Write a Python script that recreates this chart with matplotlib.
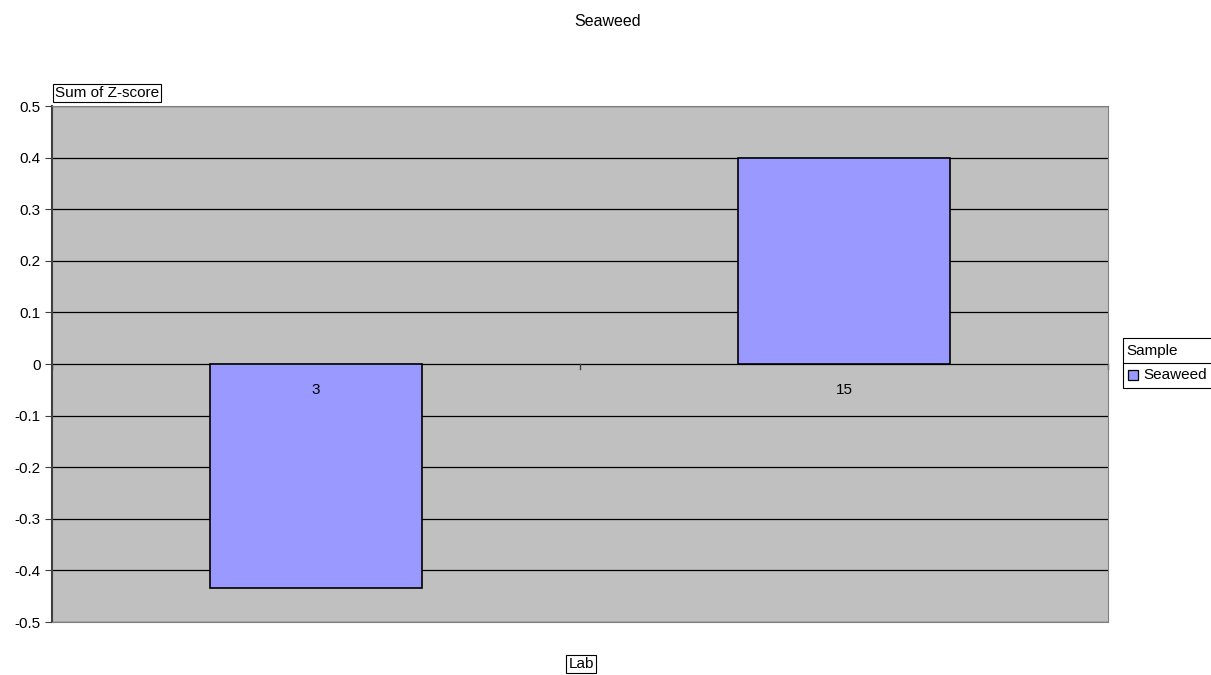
import matplotlib
matplotlib.use("Agg")
import matplotlib.pyplot as plt
import matplotlib.patches as mpatches

labs = ["3", "15"]
zscores = [-0.435, 0.4]
yticks = [-0.5, -0.4, -0.3, -0.2, -0.1, 0, 0.1, 0.2, 0.3, 0.4, 0.5]
series_name = "Seaweed"

plt.rcParams['font.family'] = ['Liberation Sans', 'DejaVu Sans']

W, H = 1211, 675
fig = plt.figure(figsize=(W/100, H/100), dpi=100)
ax = fig.add_axes([52/W, 1-622/H, (1108-52)/W, (622-106)/H])
ax.set_facecolor('#c0c0c0')

x = list(range(len(labs)))
ax.bar(x, zscores, width=0.4, color='#9999ff', edgecolor='black', linewidth=1.2, zorder=3)

ax.set_xlim(-0.5, len(labs) - 0.5)
ax.set_ylim(-0.5, 0.5)
ax.set_yticks(yticks)
ax.set_yticklabels(['%g' % v for v in yticks], fontsize=11)
for v in yticks:
    ax.axhline(v, color='black', linewidth=0.9, zorder=1)

# category labels sit under the zero line, inside the plot
ax.set_xticks([])
for i, lab in enumerate(labs):
    ax.text(i, -0.05, lab, ha='center', va='center', fontsize=11, zorder=4)
for b in [-0.5, 0.5, 1.5]:
    ax.plot([b, b], [0, -0.01], color='#404040', linewidth=1, zorder=2, clip_on=False)

for s in ['top', 'right', 'bottom']:
    ax.spines[s].set_color('gray')
ax.spines['left'].set_color('#404040')
ax.spines['left'].set_linewidth(1.5)
ax.tick_params(axis='y', length=5, color='#404040', pad=3)

fig.text(608/W, 1-21/H, series_name, ha='center', va='center', fontsize=11.5)

box = dict(boxstyle='square,pad=0.15', facecolor='white', edgecolor='black', linewidth=0.8)
fig.text(55/W, 1-93/H, "Sum of Z-score", ha='left', va='center', fontsize=11, bbox=box)
fig.text(581/W, 1-664/H, "Lab", ha='center', va='center', fontsize=11, bbox=box)

# legend: title box over entry box, running off the right edge
fig.patches.append(mpatches.Rectangle((1123/W, 1-388/H), 100/W, 50/H, transform=fig.transFigure,
                                      facecolor='white', edgecolor='black', linewidth=0.8, clip_on=False))
fig.lines.append(plt.Line2D([1123/W, 1], [1-363/H, 1-363/H], transform=fig.transFigure,
                            color='black', linewidth=0.8))
fig.text(1126/W, 1-351/H, "Sample", ha='left', va='center', fontsize=11)
fig.patches.append(mpatches.Rectangle((1128/W, 1-380/H), 10/W, 10/H, transform=fig.transFigure,
                                      facecolor='#9999ff', edgecolor='black', linewidth=0.9))
fig.text(1143/W, 1-375/H, series_name, ha='left', va='center', fontsize=11)

fig.savefig("out.png", dpi=100)
